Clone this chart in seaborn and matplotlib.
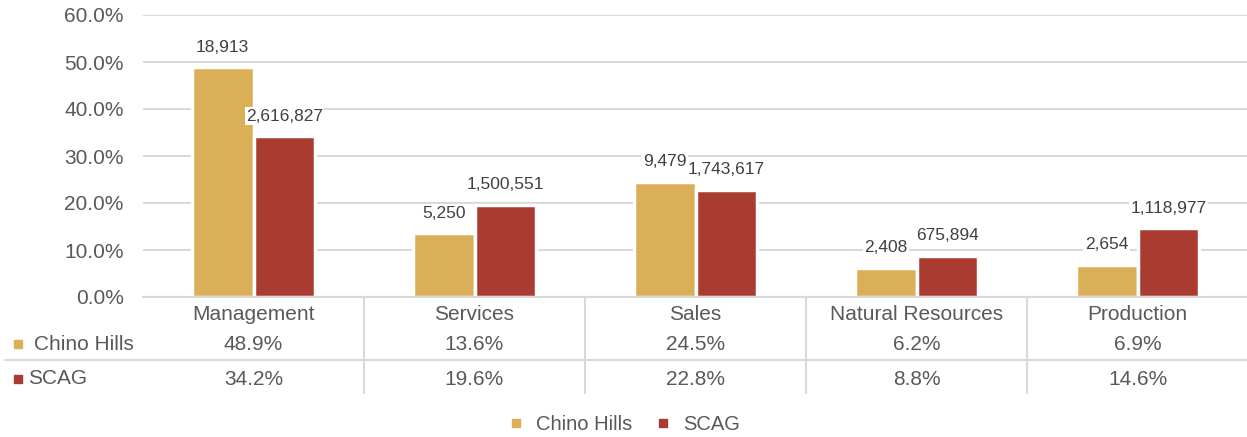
import matplotlib
matplotlib.use("Agg")
from matplotlib import pyplot as plt
from matplotlib.lines import Line2D
import pandas as pd
import seaborn as sns

categories = ["Management", "Services", "Sales", "Natural Resources", "Production"]
series = ["Chino Hills", "SCAG"]
chino_pct = [48.9, 13.6, 24.5, 6.2, 6.9]
scag_pct = [34.2, 19.6, 22.8, 8.8, 14.6]
chino_count = [18913, 5250, 9479, 2408, 2654]
scag_count = [2616827, 1500551, 1743617, 675894, 1118977]
yticks = [0, 10, 20, 30, 40, 50, 60]

colors = {"Chino Hills": "#DBAE58", "SCAG": "#AA3B31"}
text_color = "#595959"
grid_color = "#D9D9D9"

W, H = 1247, 437
df = pd.DataFrame({
    "category": categories * 2,
    "area": [series[0]] * len(categories) + [series[1]] * len(categories),
    "pct": chino_pct + scag_pct,
})

sns.set_style("white")
plt.rcParams["font.family"] = ["Liberation Sans", "DejaVu Sans"]

fig = plt.figure(figsize=(W / 100, H / 100), dpi=100)
ax = fig.add_axes([143 / W, 1 - 297 / H, 1105 / W, 282 / H])

sns.barplot(data=df, x="category", y="pct", hue="area", hue_order=series,
            palette=colors, saturation=1, width=0.56, edgecolor="white",
            linewidth=2.5, legend=False, ax=ax)

ax.set_ylim(0, 60)
ax.set_yticks(yticks)
ax.set_yticklabels([f"{t:.1f}%" for t in yticks])
ax.set_xlim(-0.5, len(categories) - 0.5)
ax.grid(True, axis="y", color=grid_color, linewidth=1.5)
ax.set_axisbelow(True)
for s in ["top", "right", "left"]:
    ax.spines[s].set_visible(False)
ax.spines["bottom"].set_color(grid_color)
ax.spines["bottom"].set_linewidth(1.5)
ax.tick_params(axis="y", length=0, pad=14, labelsize=15, labelcolor=text_color)
ax.tick_params(axis="x", length=0, pad=6, labelsize=15, labelcolor=text_color)
ax.set_xlabel("")
ax.set_ylabel("")

# count labels above bars
for cont, counts in zip(ax.containers, [chino_count, scag_count]):
    ax.bar_label(cont, labels=[f"{c:,}" for c in counts], padding=9,
                 fontsize=12.5, color="#404040",
                 bbox=dict(facecolor="white", edgecolor="none", pad=1))

# data table under the axis
row_y = [-0.167, -0.291]
for vals, y in zip([chino_pct, scag_pct], row_y):
    for i, v in enumerate(vals):
        ax.text(i, y, f"{v:.1f}%", transform=ax.get_xaxis_transform(),
                ha="center", va="center", fontsize=15, color=text_color)
for i in range(len(categories) - 1):
    ax.plot([i + 0.5, i + 0.5], [0, -0.34], transform=ax.get_xaxis_transform(),
            color=grid_color, linewidth=1.5, clip_on=False)
ax.plot([(5 - 143) / 1105, 1.0], [-0.2234, -0.2234], transform=ax.transAxes,
        color=grid_color, linewidth=1.5, clip_on=False)

# row headers
fig.patches.append(plt.Rectangle((14 / W, 1 - 348 / H), 8 / W, 8 / H,
                                 transform=fig.transFigure, color=colors["Chino Hills"]))
fig.text(34 / W, 1 - 344 / H, "Chino Hills", ha="left", va="center",
         fontsize=15, color=text_color)
fig.patches.append(plt.Rectangle((14 / W, 1 - 383 / H), 8 / W, 8 / H,
                                 transform=fig.transFigure, color=colors["SCAG"]))
fig.text(28 / W, 1 - 379 / H, "SCAG", ha="left", va="center",
         fontsize=15, color=text_color)

handles = [Line2D([], [], marker="s", linestyle="none", markersize=6,
                  color=colors[s]) for s in series]
fig.legend(handles, series, loc="center", bbox_to_anchor=(624 / W, 1 - 425 / H),
           ncol=2, frameon=False, fontsize=14.5, labelcolor=text_color,
           handlelength=0.8, handletextpad=0.6, columnspacing=1.1)

fig.savefig("out.png", dpi=100)
